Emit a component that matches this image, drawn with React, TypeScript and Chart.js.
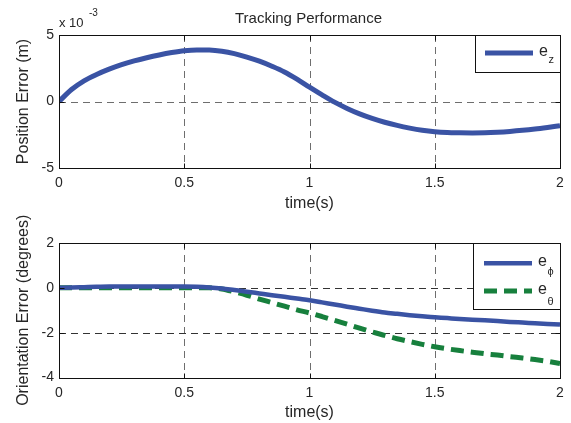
import React, { useEffect, useRef } from 'react';
import { Chart, registerables } from 'chart.js';

Chart.register(...registerables);

// ---- data ----
const TIME = [
  0, 0.05, 0.1, 0.15, 0.2, 0.25, 0.3, 0.35, 0.4, 0.45,
  0.5, 0.55, 0.6, 0.65, 0.7, 0.75, 0.8, 0.85, 0.9, 0.95,
  1.0, 1.05, 1.1, 1.15, 1.2, 1.25, 1.3, 1.35, 1.4, 1.45,
  1.5, 1.55, 1.6, 1.65, 1.7, 1.75, 1.8, 1.85, 1.9, 1.95, 2.0,
];
// position error e_z, in units of 1e-3 m
const EZ = [
  0, 0.9, 1.55, 2.03, 2.43, 2.77, 3.05, 3.29, 3.5, 3.68,
  3.82, 3.88, 3.87, 3.78, 3.6, 3.34, 3.03, 2.65, 2.22, 1.68,
  1.08, 0.5, -0.05, -0.52, -0.93, -1.27, -1.56, -1.8, -2.0, -2.16,
  -2.27, -2.33, -2.35, -2.36, -2.35, -2.31, -2.25, -2.17, -2.07, -1.95, -1.82,
];
// orientation errors (degrees)
const EPHI = [
  0, 0.01, 0.03, 0.05, 0.06, 0.06, 0.06, 0.06, 0.06, 0.06,
  0.06, 0.05, 0.02, -0.03, -0.1, -0.17, -0.25, -0.33, -0.4, -0.48,
  -0.55, -0.65, -0.74, -0.84, -0.93, -1.02, -1.1, -1.16, -1.22, -1.27,
  -1.31, -1.35, -1.39, -1.42, -1.45, -1.48, -1.52, -1.55, -1.58, -1.61, -1.64,
];
const ETHETA = [
  0, 0, 0, 0, 0, 0, 0, 0, 0, 0,
  0, 0, 0, -0.05, -0.18, -0.33, -0.5, -0.66, -0.82, -0.98,
  -1.12, -1.28, -1.45, -1.62, -1.8, -1.97, -2.12, -2.27, -2.4, -2.52,
  -2.63, -2.72, -2.8, -2.87, -2.94, -3.0, -3.07, -3.13, -3.2, -3.28, -3.38,
];
const X_TICKS = [0, 0.5, 1, 1.5, 2];
const TOP_Y_TICKS = [-5, 0, 5];
const BOTTOM_Y_TICKS = [-4, -2, 0, 2];

const FONT = "'Liberation Sans', Arial, Helvetica, sans-serif";
const TEXT = '#262626';
const BLUE = '#3a53a4';
const GREEN = '#17803d';

const framePlugin = {
  id: 'frame',
  beforeDatasetsDraw(chart: any, _args: any, opts: any) {
    const { ctx, chartArea: a, scales } = chart;
    const x = scales.x, y = scales.y;
    ctx.save();
    ctx.lineWidth = 1;
    ctx.setLineDash(opts.dash);
    ctx.strokeStyle = opts.vColor;
    for (const v of opts.xTicks) {
      if (v <= x.min || v >= x.max) continue;
      const px = Math.round(x.getPixelForValue(v)) + 0.5;
      ctx.beginPath();
      ctx.moveTo(px, a.top);
      ctx.lineTo(px, a.bottom);
      ctx.stroke();
    }
    ctx.strokeStyle = opts.hColor;
    for (const v of opts.yTicks) {
      if (v <= y.min || v >= y.max) continue;
      const py = Math.round(y.getPixelForValue(v)) + 0.5;
      ctx.beginPath();
      ctx.moveTo(a.left, py);
      ctx.lineTo(a.right, py);
      ctx.stroke();
    }
    ctx.restore();
  },
  afterDatasetsDraw(chart: any, _args: any, opts: any) {
    const { ctx, chartArea: a, scales } = chart;
    const x = scales.x, y = scales.y;
    ctx.save();
    ctx.setLineDash([]);
    ctx.strokeStyle = '#111';
    ctx.lineWidth = 1;
    const L = Math.round(a.left) + 0.5, R = Math.round(a.right) + 0.5;
    const T = Math.round(a.top) + 0.5, B = Math.round(a.bottom) + 0.5;
    ctx.strokeRect(L, T, R - L, B - T);
    const tl = 5;
    ctx.beginPath();
    for (const v of opts.xTicks) {
      const px = Math.round(x.getPixelForValue(v)) + 0.5;
      ctx.moveTo(px, B); ctx.lineTo(px, B - tl);
      ctx.moveTo(px, T); ctx.lineTo(px, T + tl);
    }
    for (const v of opts.yTicks) {
      const py = Math.round(y.getPixelForValue(v)) + 0.5;
      ctx.moveTo(L, py); ctx.lineTo(L + tl, py);
      ctx.moveTo(R, py); ctx.lineTo(R - tl, py);
    }
    ctx.stroke();

    // legend
    const lg = opts.legend;
    if (lg) {
      const [bx, by, bw, bh] = lg.box;
      ctx.fillStyle = '#fff';
      ctx.fillRect(bx, by, bw, bh);
      ctx.strokeStyle = '#111';
      ctx.strokeRect(bx + 0.5, by + 0.5, bw, bh);
      for (const it of lg.items) {
        ctx.save();
        ctx.strokeStyle = it.color;
        ctx.lineWidth = it.width;
        ctx.setLineDash(it.dash || []);
        ctx.beginPath();
        ctx.moveTo(lg.x1, it.y);
        ctx.lineTo(lg.x2, it.y);
        ctx.stroke();
        ctx.restore();
        ctx.fillStyle = TEXT;
        ctx.textAlign = 'left';
        ctx.textBaseline = 'alphabetic';
        ctx.font = `16px ${FONT}`;
        ctx.fillText('e', lg.tx, it.y + 3);
        ctx.font = `11px ${FONT}`;
        ctx.fillText(it.sub, lg.tx + 9.5, it.y + it.subDy);
      }
    }

    // extra texts (title, exponent)
    if (opts.texts) {
      for (const t of opts.texts) {
        ctx.fillStyle = TEXT;
        ctx.font = `${t.size}px ${FONT}`;
        ctx.textAlign = t.align;
        ctx.textBaseline = 'alphabetic';
        ctx.fillText(t.text, t.x, t.y);
      }
    }
    ctx.restore();
  },
};

function makeOptions(p: {
  yMin: number; yMax: number; yTicks: number[]; yTitle: string;
  padTop: number; xHeight: number; frame: any;
}) {
  return {
    responsive: false,
    maintainAspectRatio: false,
    animation: false as const,
    layout: { padding: { top: p.padTop, right: 11, left: 0, bottom: 0 } },
    plugins: {
      legend: { display: false },
      tooltip: { enabled: false },
      title: { display: false },
      frame: p.frame,
    },
    elements: { point: { radius: 0 } },
    scales: {
      x: {
        type: 'linear' as const,
        min: 0,
        max: 2,
        afterBuildTicks: (s: any) => { s.ticks = X_TICKS.map((v) => ({ value: v })); },
        grid: { display: false, drawTicks: false },
        border: { display: false },
        ticks: {
          font: { family: FONT, size: 14 },
          color: TEXT,
          padding: 7,
          maxRotation: 0,
          autoSkip: false,
          callback: (v: any) => String(v),
        },
        title: {
          display: true,
          text: 'time(s)',
          font: { family: FONT, size: 16 },
          color: TEXT,
          padding: { top: 0, bottom: 1 },
        },
        afterFit: (s: any) => { s.height = p.xHeight; },
      },
      y: {
        type: 'linear' as const,
        min: p.yMin,
        max: p.yMax,
        afterBuildTicks: (s: any) => { s.ticks = p.yTicks.map((v) => ({ value: v })); },
        grid: { display: false, drawTicks: false },
        border: { display: false },
        ticks: {
          font: { family: FONT, size: 14 },
          color: TEXT,
          padding: 5,
          callback: (v: any) => String(v),
        },
        title: {
          display: true,
          text: p.yTitle,
          font: { family: FONT, size: 16 },
          color: TEXT,
          padding: { top: 14, bottom: 0 },
        },
        afterFit: (s: any) => { s.width = 59; },
      },
    },
  };
}

export default function App() {
  const topRef = useRef<HTMLCanvasElement>(null);
  const botRef = useRef<HTMLCanvasElement>(null);

  useEffect(() => {
    const top = new Chart(topRef.current as HTMLCanvasElement, {
      type: 'line',
      data: {
        datasets: [
          {
            label: 'e_z',
            data: TIME.map((t, i) => ({ x: t, y: EZ[i] })),
            borderColor: BLUE,
            borderWidth: 5,
            cubicInterpolationMode: 'monotone',
            pointRadius: 0,
            fill: false,
          },
        ],
      },
      options: makeOptions({
        yMin: -5, yMax: 5, yTicks: TOP_Y_TICKS, yTitle: 'Position Error (m)',
        padTop: 35, xHeight: 46,
        frame: {
          dash: [7, 5], vColor: '#6e6e6e', hColor: '#6e6e6e',
          xTicks: X_TICKS, yTicks: TOP_Y_TICKS,
          legend: {
            box: [475, 35, 85, 37], x1: 485, x2: 533, tx: 539,
            items: [{ color: BLUE, width: 5, y: 53, sub: 'z', subDy: 10 }],
          },
          texts: [
            { text: 'Tracking Performance', x: 308.5, y: 22.5, size: 15, align: 'center' },
            { text: 'x 10', x: 59, y: 26.5, size: 13, align: 'left' },
            { text: '-3', x: 89, y: 16, size: 10, align: 'left' },
          ],
        },
      }) as any,
      plugins: [framePlugin as any],
    });

    const bot = new Chart(botRef.current as HTMLCanvasElement, {
      type: 'line',
      data: {
        datasets: [
          {
            label: 'e_phi',
            data: TIME.map((t, i) => ({ x: t, y: EPHI[i] })),
            borderColor: BLUE,
            borderWidth: 4.5,
            cubicInterpolationMode: 'monotone',
            pointRadius: 0,
            fill: false,
          },
          {
            label: 'e_theta',
            data: TIME.map((t, i) => ({ x: t, y: ETHETA[i] })),
            borderColor: GREEN,
            borderWidth: 5,
            borderDash: [13, 7],
            cubicInterpolationMode: 'monotone',
            pointRadius: 0,
            fill: false,
          },
        ],
      },
      options: makeOptions({
        yMin: -4, yMax: 2, yTicks: BOTTOM_Y_TICKS, yTitle: 'Orientation Error (degrees)',
        padTop: 29, xHeight: 45.5,
        frame: {
          dash: [7, 5], vColor: '#6e6e6e', hColor: '#333333',
          xTicks: X_TICKS, yTicks: BOTTOM_Y_TICKS,
          legend: {
            box: [473, 29, 87, 66], x1: 484, x2: 532, tx: 538,
            items: [
              { color: BLUE, width: 4.5, y: 49.3, sub: '\u03D5', subDy: 11.5 },
              { color: GREEN, width: 5, y: 77, sub: '\u03B8', subDy: 13.5, dash: [13, 7] },
            ],
          },
        },
      }) as any,
      plugins: [framePlugin as any],
    });

    return () => {
      top.destroy();
      bot.destroy();
    };
  }, []);

  return (
    <div style={{ position: 'absolute', left: 0, top: 0, width: 571, height: 423, background: '#fff' }}>
      <canvas ref={topRef} width={571} height={214} style={{ display: 'block' }} />
      <canvas ref={botRef} width={571} height={209} style={{ display: 'block' }} />
    </div>
  );
}
